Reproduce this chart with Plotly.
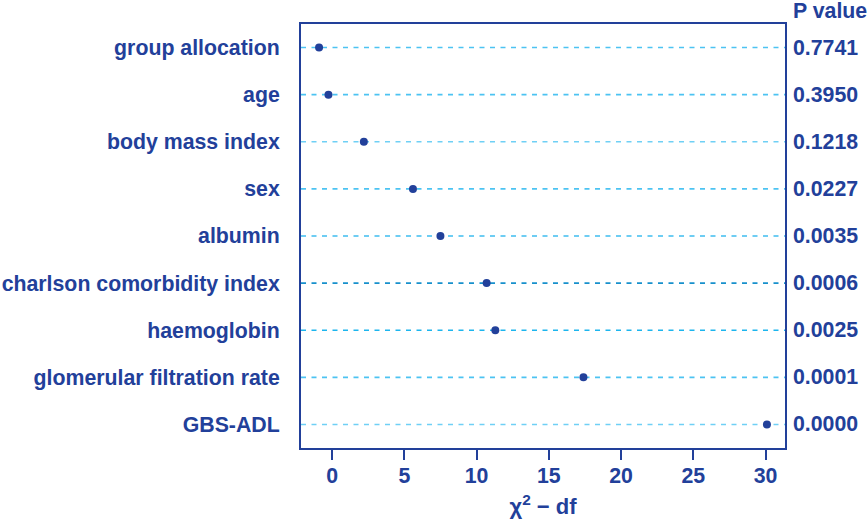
import plotly.graph_objects as go

# Predictors, ordered top to bottom, with chi-square minus df and P values
variables = [
    "group allocation",
    "age",
    "body mass index",
    "sex",
    "albumin",
    "charlson comorbidity index",
    "haemoglobin",
    "glomerular filtration rate",
    "GBS-ADL",
]
chi2_minus_df = [-0.9, -0.25, 2.2, 5.6, 7.5, 10.7, 11.3, 17.4, 30.1]
p_values = ["0.7741", "0.3950", "0.1218", "0.0227", "0.0035",
            "0.0006", "0.0025", "0.0001", "0.0000"]
x_ticks = [0, 5, 10, 15, 20, 25, 30]

navy = "#22409a"
guide_colors = ["#4cc3f2", "#4cc3f2", "#6fd0f5", "#4cc3f2", "#3fbdf0",
                "#1790cc", "#1cb5ee", "#4cc3f2", "#6fd0f5"]
font_family = "Liberation Sans, Arial, sans-serif"

x_range = [-2.15, 31.35]
rows = list(range(1, len(variables) + 1))

fig = go.Figure()

# Dashed guide line for each predictor
for r, col in zip(rows, guide_colors):
    fig.add_trace(go.Scatter(
        x=x_range, y=[r, r], mode="lines",
        line=dict(color=col, width=1.6, dash="5px,5.5px"),
        hoverinfo="skip", showlegend=False,
    ))

# Dots
fig.add_trace(go.Scatter(
    x=chi2_minus_df, y=rows, mode="markers",
    marker=dict(color=navy, size=8),
    showlegend=False,
))

# P values on the right margin
for r, p in zip(rows, p_values):
    fig.add_annotation(
        x=1, xref="paper", y=r, yref="y", text=p, showarrow=False,
        xanchor="left", xshift=6,
        font=dict(family=font_family, size=21.3, color=navy, weight="bold"),
    )
fig.add_annotation(
    x=1, xref="paper", y=1, yref="paper", text="P value", showarrow=False,
    xanchor="left", yanchor="bottom", xshift=6, yshift=-1,
    font=dict(family=font_family, size=21.3, color=navy, weight="bold"),
)

fig.update_layout(
    width=867, height=519,
    margin=dict(l=301, r=82, t=24, b=71),
    plot_bgcolor="white", paper_bgcolor="white",
    font=dict(family=font_family, color=navy),
)
fig.update_xaxes(
    range=x_range, tickvals=x_ticks, automargin=False,
    ticks="outside", ticklen=10, tickwidth=2, tickcolor=navy,
    ticklabelstandoff=-3,
    showline=True, linecolor=navy, linewidth=2, mirror=True,
    showgrid=False, zeroline=False,
    tickfont=dict(family=font_family, size=21.3, color=navy, weight="bold"),
    title=dict(text="χ<sup>2</sup> − df", standoff=18,
               font=dict(family=font_family, size=22, color=navy, weight="bold")),
)
fig.update_yaxes(
    range=[9.5, 0.5], tickvals=rows, ticktext=variables, automargin=False,
    ticks="", ticklabelstandoff=15,
    showline=True, linecolor=navy, linewidth=2, mirror=True,
    showgrid=False, zeroline=False,
    tickfont=dict(family=font_family, size=21.3, color=navy, weight="bold"),
)

fig.write_html("out.html")
